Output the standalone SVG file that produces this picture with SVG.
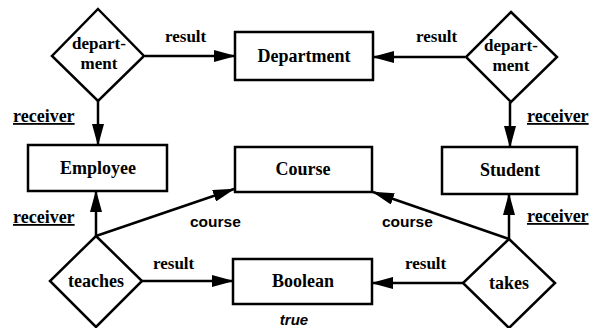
<svg xmlns="http://www.w3.org/2000/svg" width="599" height="328" viewBox="0 0 599 328">
  <style>
    .box { fill: #fff; stroke: #000; stroke-width: 2.5; }
    .dia { fill: #fff; stroke: #000; stroke-width: 2.5; stroke-linejoin: miter; }
    .lbl { font-family: "Liberation Serif", "Times New Roman", serif; font-weight: bold; font-size: 18px; fill: #000; text-anchor: middle; }
    .two { font-size: 17px; }
    .role { font-family: "Liberation Serif", "Times New Roman", serif; font-weight: bold; font-size: 17px; fill: #000; }
    .rcv { text-decoration: underline; font-size: 18px; }
    .sans { font-family: "Liberation Sans", Arial, sans-serif; font-weight: bold; font-size: 15.5px; fill: #000; }
    .ital { font-family: "Liberation Sans", Arial, sans-serif; font-style: italic; font-weight: bold; font-size: 15px; fill: #000; text-anchor: middle; }
    .edge { stroke: #000; stroke-width: 2.5; fill: none; marker-end: url(#arr); }
  </style>
  <defs>
    <marker id="arr" markerUnits="userSpaceOnUse" markerWidth="22" markerHeight="12" refX="21" refY="6" orient="auto">
      <path d="M0,0 L22,6 L0,12 Z" fill="#000"/>
    </marker>
  </defs>
  <rect width="599" height="328" fill="#fff"/>

  <!-- connectors -->
  <g id="connectors">
    <line class="edge" x1="145" y1="56" x2="235" y2="56"/>
    <line class="edge" x1="98" y1="101" x2="98" y2="145"/>
    <line class="edge" x1="465" y1="57" x2="373" y2="57"/>
    <line class="edge" x1="510" y1="102" x2="510" y2="147"/>
    <line class="edge" x1="96" y1="236" x2="96" y2="191"/>
    <line class="edge" x1="96" y1="236" x2="234" y2="189"/>
    <line class="edge" x1="142" y1="281" x2="233" y2="281"/>
    <line class="edge" x1="509" y1="239" x2="373" y2="192"/>
    <line class="edge" x1="509" y1="239" x2="509" y2="194"/>
    <line class="edge" x1="463" y1="283" x2="372" y2="283"/>
    <text class="role" x="165" y="42">result</text>
    <text class="role" x="416" y="42">result</text>
    <text class="role rcv" x="13" y="122">receiver</text>
    <text class="role rcv" x="527" y="122">receiver</text>
    <text class="role rcv" x="13" y="223">receiver</text>
    <text class="role rcv" x="527" y="222">receiver</text>
    <text class="sans" x="190" y="227">course</text>
    <text class="sans" x="382" y="227">course</text>
    <text class="role" x="153" y="269">result</text>
    <text class="role" x="405" y="269">result</text>
  </g>

  <!-- relationship diamonds -->
  <g id="dept-left">
    <polygon class="dia" points="98,9 144,56 98,101 52,56"/>
    <text class="lbl two" x="99" y="49">depart-</text>
    <text class="lbl two" x="99" y="69">ment</text>
  </g>
  <g id="dept-right">
    <polygon class="dia" points="511,12 557,57 511,102 466,57"/>
    <text class="lbl two" x="511" y="51">depart-</text>
    <text class="lbl two" x="511" y="71">ment</text>
  </g>
  <g id="teaches">
    <polygon class="dia" points="96,236 142,281 96,327 50,281"/>
    <text class="lbl" x="96" y="287">teaches</text>
  </g>
  <g id="takes">
    <polygon class="dia" points="509,239 555,283 509,328 463,283"/>
    <text class="lbl" x="509" y="289">takes</text>
  </g>

  <!-- entity boxes -->
  <g id="department">
    <rect class="box" x="235" y="32" width="138" height="48"/>
    <text class="lbl" x="304" y="62">Department</text>
  </g>
  <g id="employee">
    <rect class="box" x="28" y="145" width="139" height="46"/>
    <text class="lbl" x="98" y="174">Employee</text>
  </g>
  <g id="course">
    <rect class="box" x="235" y="147" width="137" height="45"/>
    <text class="lbl" x="303" y="175">Course</text>
  </g>
  <g id="student">
    <rect class="box" x="442" y="147" width="135" height="47"/>
    <text class="lbl" x="510" y="176">Student</text>
  </g>
  <g id="boolean">
    <rect class="box" x="233" y="259" width="139" height="45"/>
    <text class="lbl" x="303" y="287">Boolean</text>
    <text class="ital" x="294" y="325">true</text>
  </g>
</svg>
